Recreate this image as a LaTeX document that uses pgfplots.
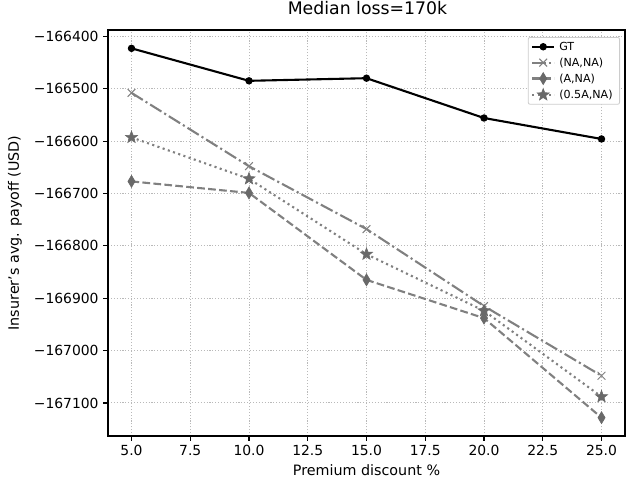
\documentclass[border=0pt]{standalone}
\usepackage{fontspec}
\setmainfont{DejaVu Sans}
\usepackage{pgfplots}
\pgfplotsset{compat=1.18}
\pgfdeclareplotmark{fstar}{%
  \pgfpathmoveto{\pgfpointpolar{90}{\pgfplotmarksize}}%
  \pgfpathlineto{\pgfpointpolar{126}{0.42\pgfplotmarksize}}%
  \pgfpathlineto{\pgfpointpolar{162}{\pgfplotmarksize}}%
  \pgfpathlineto{\pgfpointpolar{198}{0.42\pgfplotmarksize}}%
  \pgfpathlineto{\pgfpointpolar{234}{\pgfplotmarksize}}%
  \pgfpathlineto{\pgfpointpolar{270}{0.42\pgfplotmarksize}}%
  \pgfpathlineto{\pgfpointpolar{306}{\pgfplotmarksize}}%
  \pgfpathlineto{\pgfpointpolar{342}{0.42\pgfplotmarksize}}%
  \pgfpathlineto{\pgfpointpolar{18}{\pgfplotmarksize}}%
  \pgfpathlineto{\pgfpointpolar{54}{0.42\pgfplotmarksize}}%
  \pgfpathclose
  \pgfusepathqfillstroke}
\pgfdeclareplotmark{thindiamond}{%
  \pgfpathmoveto{\pgfqpoint{0pt}{\pgfplotmarksize}}%
  \pgfpathlineto{\pgfqpoint{0.6\pgfplotmarksize}{0pt}}%
  \pgfpathlineto{\pgfqpoint{0pt}{-\pgfplotmarksize}}%
  \pgfpathlineto{\pgfqpoint{-0.6\pgfplotmarksize}{0pt}}%
  \pgfpathclose
  \pgfusepathqfillstroke}
\definecolor{lgray}{RGB}{128,128,128}
\definecolor{mgray}{RGB}{105,105,105}
\definecolor{gridgray}{RGB}{185,185,185}
\begin{document}
\begin{tikzpicture}
\begin{axis}[
  scale only axis,
  width=517bp, height=406bp,
  xmin=4, xmax=26,
  ymin=-167163, ymax=-166388,
  scaled y ticks=false, scaled x ticks=false,
  xtick={5,7.5,10,12.5,15,17.5,20,22.5,25},
  xticklabels={5.0,7.5,10.0,12.5,15.0,17.5,20.0,22.5,25.0},
  ytick={-167100,-167000,-166900,-166800,-166700,-166600,-166500,-166400},
  yticklabels={−167100,−167000,−166900,−166800,−166700,−166600,−166500,−166400},
  tick align=outside, xtick pos=bottom, ytick pos=left,
  major tick length=4.9bp,
  tick style={black, line width=1.1bp},
  axis line style={black, line width=1.1bp},
  grid=major,
  major grid style={dash pattern=on 1.1bp off 1.8bp, gridgray, line width=1bp},
  tick label style={font=\fontsize{13.9bp}{16bp}\selectfont},
  xticklabel style={yshift=-1bp},
  yticklabel style={xshift=-1bp},
  xlabel={Premium discount \%},
  ylabel={Insurer's avg. payoff (USD)},
  label style={font=\fontsize{14.3bp}{16bp}\selectfont},
  xlabel style={at={(axis description cs:0.5,0)}, anchor=center, yshift=-34bp},
  ylabel style={at={(axis description cs:0,0.5)}, anchor=center, yshift=93bp},
  title={Median loss=170k},
  title style={font=\fontsize{17.3bp}{19bp}\selectfont, at={(axis description cs:0.5,1)}, anchor=center, yshift=16bp, xshift=1bp},
  legend style={at={(axis description cs:1,1)}, anchor=north east, xshift=-5bp, yshift=-7bp,
    font=\fontsize{11.1bp}{13bp}\selectfont,
    draw=black!20, line width=0.8bp, rounded corners=2bp, inner xsep=3bp, inner ysep=3.5bp, row sep=4bp,
    nodes={inner xsep=4bp, inner ysep=1bp}},
  legend cell align=left,
  legend image code/.code={\draw[mark repeat=2,mark phase=2] plot coordinates {(0bp,0bp) (11bp,0bp) (22bp,0bp)};},
]
\addplot[black, line width=2.1bp, mark=*, mark size=2.6bp] coordinates {
 (5,-166423) (10,-166485) (15,-166480) (20,-166556) (25,-166596)};
\addlegendentry{GT}
\addplot[lgray, line width=2.1bp, dash pattern=on 13.3bp off 3.3bp on 2.1bp off 3.3bp,
  mark=x, mark size=5.5bp, mark options={solid, line width=1bp}] coordinates {
 (5,-166508) (10,-166648) (15,-166768) (20,-166915) (25,-167048)};
\addlegendentry{(NA,NA)}
\addplot[lgray, line width=2.1bp, dash pattern=on 7.7bp off 3.3bp,
  mark=thindiamond, mark size=6bp, mark options={solid, fill=mgray, draw=mgray, line width=0.6bp}] coordinates {
 (5,-166677) (10,-166699) (15,-166865) (20,-166938) (25,-167128)};
\addlegendentry{(A,NA)}
\addplot[lgray, line width=2.1bp, dash pattern=on 2.1bp off 3.4bp,
  mark=fstar, mark size=6.3bp, mark options={solid, fill=mgray, draw=mgray, line width=0.6bp}] coordinates {
 (5,-166593) (10,-166672) (15,-166816) (20,-166924) (25,-167088)};
\addlegendentry{(0.5A,NA)}
\end{axis}
\pgfresetboundingbox
\path[use as bounding box] ([shift={(-108bp,-48bp)}]current axis.south west) rectangle ([shift={(2bp,30bp)}]current axis.north east);
\end{tikzpicture}
\end{document}
